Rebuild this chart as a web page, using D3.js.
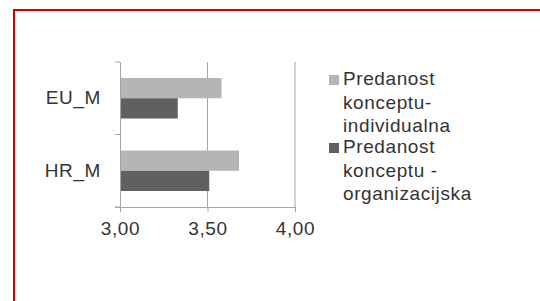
<!DOCTYPE html>
<html>
<head>
<meta charset="utf-8">
<script src="https://cdn.jsdelivr.net/npm/d3@7"></script>
<style>
  body { margin: 0; background: #fff; }
  svg { display: block; }
</style>
</head>
<body>
<svg width="540" height="301"></svg>
<script>
var categories = ['EU_M', 'HR_M'],
    seriesNames = [['Predanost', 'konceptu-', 'individualna'], ['Predanost', 'konceptu -', 'organizacijska']],
    individualna = [3.58, 3.68],
    organizacijska = [3.33, 3.51],
    tickValues = [3.0, 3.5, 4.0],
    colors = ['#b5b5b5', '#606060'];

var svg = d3.select('svg'),
    textColor = '#333',
    lineColor = '#a6a6a6',
    font = 'Liberation Sans, Arial, sans-serif';

// red frame, runs off the right and bottom edges
svg.append('rect')
    .attr('x', 14).attr('y', 10)
    .attr('width', 600).attr('height', 400)
    .attr('fill', 'none')
    .attr('stroke', '#d40000')
    .attr('stroke-width', 2);

var x = d3.scaleLinear().domain([3, 4]).range([120, 295]),
    y = d3.scaleBand().domain(categories).range([62, 207]),
    ySub = d3.scaleBand().domain([0, 1]).range([16, y.bandwidth() - 16]);

var g = svg.append('g');

// gridlines
g.selectAll('.grid')
    .data(tickValues.slice(1))
  .enter().append('line')
    .attr('x1', function(d) { return x(d); })
    .attr('x2', function(d) { return x(d); })
    .attr('y1', 62).attr('y2', 207)
    .attr('stroke', lineColor);

// bars
var data = categories.map(function(c, i) {
  return { cat: c, vals: [individualna[i], organizacijska[i]] };
});

var groups = g.selectAll('.cat')
    .data(data)
  .enter().append('g')
    .attr('transform', function(d) { return 'translate(0,' + y(d.cat) + ')'; });

groups.selectAll('rect')
    .data(function(d) { return d.vals; })
  .enter().append('rect')
    .attr('x', x(3))
    .attr('y', function(d, i) { return ySub(i); })
    .attr('height', ySub.bandwidth())
    .attr('width', function(d) { return x(d) - x(3); })
    .attr('fill', function(d, i) { return colors[i]; });

// axes
var xAxis = g.append('g')
    .attr('transform', 'translate(0,207)')
    .call(d3.axisBottom(x).tickValues(tickValues).tickSize(5).tickPadding(10)
      .tickFormat(function(d) { return d3.format('.2f')(d).replace('.', ','); }));
xAxis.select('.domain').attr('d', 'M115,0.5H295');

var yAxis = g.append('g')
    .attr('transform', 'translate(120,0)')
    .call(d3.axisLeft(y).tickSize(0).tickPadding(19));
yAxis.select('.domain').attr('d', 'M0.5,62V207');

// category boundary ticks
yAxis.selectAll('.bound')
    .data([62, y('HR_M'), 207])
  .enter().append('line')
    .attr('x1', -5).attr('x2', 0)
    .attr('y1', function(d) { return d; })
    .attr('y2', function(d) { return d; })
    .attr('stroke', lineColor);

svg.selectAll('.domain, .tick line').attr('stroke', lineColor);
svg.selectAll('.tick text')
    .attr('fill', textColor)
    .style('font-family', font)
    .style('font-size', '19px')
    .style('letter-spacing', '0.6px');

// legend
var legend = svg.append('g')
    .attr('transform', 'translate(329,0)');

var items = legend.selectAll('.item')
    .data(seriesNames)
  .enter().append('g')
    .attr('transform', function(d, i) { return 'translate(0,' + (i * 68) + ')'; });

items.append('rect')
    .attr('x', 0).attr('y', 75)
    .attr('width', 10).attr('height', 10)
    .attr('fill', function(d, i) { return colors[i]; });

items.append('text')
    .attr('fill', textColor)
    .style('font-family', font)
    .style('font-size', '19px')
    .style('letter-spacing', '0.6px')
  .selectAll('tspan')
    .data(function(d) { return d; })
  .enter().append('tspan')
    .attr('x', 14)
    .attr('y', function(d, i) { return 85 + i * 23.5; })
    .text(function(d) { return d; });
</script>
</body>
</html>
